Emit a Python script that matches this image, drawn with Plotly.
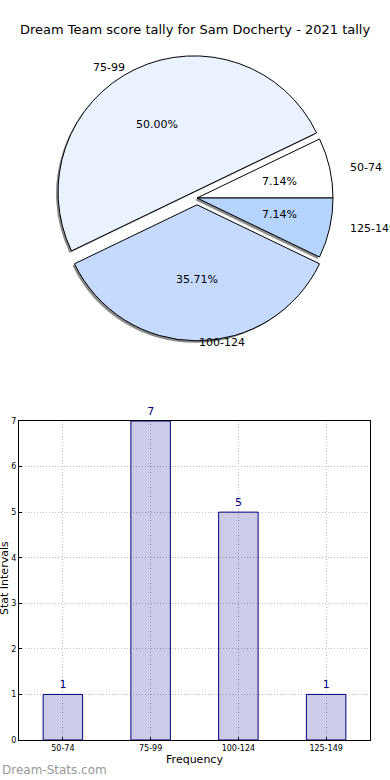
import math
import plotly.graph_objects as go

# ---- data ----
categories = ["50-74", "75-99", "100-124", "125-149"]
counts = [1, 7, 5, 1]
pie_colors = ["#ffffff", "#eaf1ff", "#c6d9ff", "#b5d5ff"]
pulls = [0, 0.05, 0.05, 0]
title_text = "Dream Team score tally for Sam Docherty - 2021 tally"
y_ticks = [0, 1, 2, 3, 4, 5, 6, 7]

W, H = 390, 780
FONT = "DejaVu Sans"

total = sum(counts)
# first slice starts at 3 o'clock and runs counterclockwise
rot = 90 - 360 * counts[0] / total

# pie geometry (pixels)
cx, cy, R = 197, 198, 136
half = R * (1 + max(pulls))
dom_x = [(cx - half) / W, (cx + half) / W]
dom_y = [1 - (cy + half) / H, 1 - (cy - half) / H]
sdx, sdy = -2 / W, -2 / H

fig = go.Figure()

common = dict(labels=categories, values=counts, sort=False, direction="counterclockwise",
              rotation=rot, pull=pulls, showlegend=False, automargin=False)

# shadow
fig.add_trace(go.Pie(
    **common,
    marker=dict(colors=["#8a8a8a"] * len(counts), line=dict(width=0)),
    textinfo="none", hoverinfo="skip",
    domain=dict(x=[dom_x[0] + sdx, dom_x[1] + sdx], y=[dom_y[0] + sdy, dom_y[1] + sdy]),
))

# main pie
fig.add_trace(go.Pie(
    **common,
    marker=dict(colors=pie_colors, line=dict(color="black", width=1)),
    textinfo="none",
    hovertemplate="%{label}: %{value} (%{percent:.2%})<extra></extra>",
    domain=dict(x=dom_x, y=dom_y),
))

# slice labels (matplotlib-style: labels at 1.1 r, percentages at 0.6 r)
annotations = []
rx, ry = 141, 126  # label radii as laid out in the original (slightly elliptical)
acc = 0
for cat, v, p in zip(categories, counts, pulls):
    th = math.radians(360 * (acc + v / 2) / total)
    acc += v
    c, s = math.cos(th), math.sin(th)
    lx = cx + (1.1 + p) * rx * c
    ly = cy - (1.1 + p) * ry * s
    annotations.append(dict(text=cat, x=lx / W, y=1 - ly / H, xref="paper", yref="paper",
                            xanchor="left" if c > -1e-6 else "right", yanchor="middle",
                            showarrow=False, font=dict(family=FONT, size=11, color="black")))
    px = cx + (0.6 + p) * rx * c
    py = cy - (0.6 + p) * ry * s
    annotations.append(dict(text=f"{100 * v / total:.2f}%", x=px / W, y=1 - py / H,
                            xref="paper", yref="paper", xanchor="center", yanchor="middle",
                            showarrow=False, font=dict(family=FONT, size=11, color="black")))

# bar chart
fig.add_trace(go.Bar(
    x=categories, y=counts, width=0.45,
    marker=dict(color="rgba(0,0,128,0.2)", line=dict(color="navy", width=1)),
    text=counts, textposition="outside", cliponaxis=False,
    textfont=dict(family=FONT, size=11, color="navy"),
    xaxis="x", yaxis="y", showlegend=False,
))

bar_x = [19 / W, 370 / W]
bar_y = [1 - 740 / H, 1 - 421 / H]

grid = dict(showgrid=True, gridcolor="#bdbdbd", griddash="1px,2px", gridwidth=1)
axis_common = dict(showline=True, linecolor="black", mirror=True, linewidth=1,
                   ticks="inside", ticklen=3, tickcolor="black", zeroline=False,
                   automargin=False, tickfont=dict(family=FONT, size=8, color="black"), **grid)

annotations += [
    dict(text=title_text, x=0.5, y=1 - 30 / H, xref="paper", yref="paper",
         xanchor="center", yanchor="middle", showarrow=False,
         font=dict(family=FONT, size=13, color="black")),
    dict(text="Stat Intervals", x=4 / W, y=1 - 578 / H, xref="paper", yref="paper",
         xanchor="center", yanchor="middle", textangle=-90, showarrow=False,
         font=dict(family=FONT, size=11, color="black")),
    dict(text="Dream-Stats.com", x=0, y=1 - 770 / H, xref="paper", yref="paper",
         xanchor="left", yanchor="middle", showarrow=False,
         font=dict(family=FONT, size=12, color="#999999")),
]

fig.update_layout(
    width=W, height=H, margin=dict(l=0, r=0, t=0, b=0, autoexpand=False),
    paper_bgcolor="white", plot_bgcolor="white",
    font=dict(family=FONT, color="black"),
    xaxis=dict(domain=bar_x, range=[-0.5, 3.5], anchor="y",
               title=dict(text="Frequency", font=dict(family=FONT, size=11), standoff=2),
               **axis_common),
    yaxis=dict(domain=bar_y, range=[0, 7], tickvals=y_ticks, anchor="x", **axis_common),
    annotations=annotations,
)

fig.write_html("out.html", config={"displayModeBar": False},
               post_script="document.body.style.margin='0';")
